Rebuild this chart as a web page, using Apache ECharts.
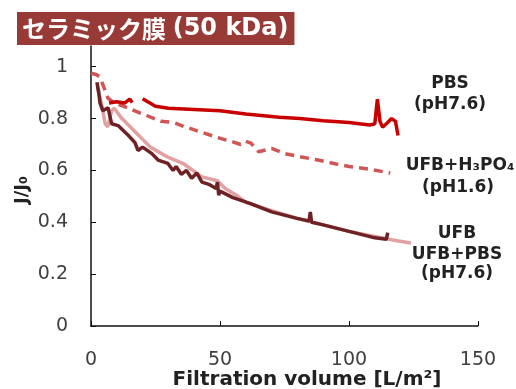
<!DOCTYPE html>
<html>
<head>
<meta charset="utf-8">
<script src="https://cdn.jsdelivr.net/npm/echarts@6/dist/echarts.min.js"></script>
<style>
  html, body { margin: 0; padding: 0; background: #fff; }
  #chart { width: 516px; height: 389px; }
</style>
</head>
<body>
<div id="chart"></div>
<script>
// J/J0 vs filtration volume, ceramic membrane (50 kDa)
var xTicks = [0, 50, 100, 150];
var yTicks = [0, 0.2, 0.4, 0.6, 0.8, 1];

// PBS (pH7.6) - solid red, gap around 17
var pbs = [[7,0.86],[10,0.865],[13,0.86],[15,0.875],[16,0.862],[17,'-'],
  [20,0.877],[22,0.865],[25,0.848],[30,0.84],[40,0.835],[50,0.83],[60,0.818],[73,0.805],
  [81,0.80],[90,0.792],[100,0.785],[108,0.775],[110,0.78],[111,0.875],[112,0.79],
  [113,0.767],[114.5,0.78],[116.5,0.80],[118,0.79],[119,0.735]];

// UFB+H3PO4 (pH1.6) - dashed
var ufbAcid = [[0,0.975],[2,0.97],[3.5,0.96],[5,0.92],[6.5,0.88],[9,0.86],[12,0.85],
  [17,0.83],[22,0.81],[27,0.79],[32,0.785],[36,0.77],[42,0.75],[49,0.727],[55,0.71],
  [58,0.70],[60,0.712],[62,0.705],[65,0.672],[68,0.68],[70,0.685],[75,0.665],[80,0.655],
  [88,0.64],[95,0.625],[100,0.615],[108,0.605],[116,0.59]];

// UFB+PBS (pH7.6) - light pink
var ufbPbs = [[2.5,0.92],[4,0.86],[5.5,0.78],[6.5,0.768],[8,0.83],[9,0.84],[12,0.80],
  [17,0.75],[23,0.69],[30,0.65],[36,0.625],[43,0.575],[49,0.56],[52,0.53],[57,0.50],
  [60,0.477],[70,0.445],[80,0.415],[90,0.39],[100,0.365],[110,0.345],[118,0.33],[124,0.32]];

// UFB - dark brown
var ufb = [[2.3,0.94],[3,0.9],[3.5,0.86],[4.6,0.83],[6.6,0.842],[8,0.78],[10.5,0.773],
  [14,0.74],[17,0.708],[18.2,0.677],[20,0.69],[23.6,0.665],[26,0.64],[29.8,0.627],
  [31.8,0.6],[33,0.615],[35,0.585],[37,0.60],[39,0.57],[41,0.59],[43,0.555],[46,0.545],
  [48.5,0.53],[49,0.555],[49.5,0.505],[50,0.52],[55,0.495],[61.6,0.473],[70,0.44],
  [79.8,0.415],[84.5,0.405],[85,0.44],[85.5,0.40],[90,0.39],[100,0.365],[110,0.34],
  [114.5,0.335],[115,0.36]];

var chart = echarts.init(document.getElementById('chart'));
function lbl(x, y, s) {
  return { type: 'text', x: x, y: y, style: { text: s, fill: '#222', fontWeight: 'bold', fontSize: 17,
    fontFamily: 'DejaVu Sans', align: 'center', verticalAlign: 'middle' } };
}

chart.setOption({
  animation: false,
  title: {
    text: '{a|セラミック膜} {b|(50 kDa)}',
    left: 17, top: 12,
    backgroundColor: '#983A36',
    padding: [3, 6, 2, 5],
    textStyle: {
      color: '#fff', fontSize: 24, fontWeight: 'bold', lineHeight: 28,
      rich: {
        a: { color: '#fff', fontSize: 24, fontWeight: 'bold', fontFamily: 'Noto Sans CJK JP', lineHeight: 28 },
        b: { color: '#fff', fontSize: 24, fontWeight: 'bold', fontFamily: 'DejaVu Sans', lineHeight: 28 }
      }
    }
  },
  grid: { left: 91, right: 38, top: 46, bottom: 63 },
  xAxis: {
    type: 'value', min: 0, max: 150, interval: 50,
    axisLine: { lineStyle: { color: '#111', width: 1.5 } },
    axisTick: { inside: true, length: 5, lineStyle: { color: '#111' } },
    axisLabel: { color: '#404040', fontSize: 19, margin: 25, fontFamily: 'DejaVu Sans' },
    splitLine: { show: false }
  },
  yAxis: {
    type: 'value', min: 0, max: 1.08,
    axisLine: { show: true, lineStyle: { color: '#111', width: 1.5 } },
    axisTick: { show: true, inside: true, length: 5, customValues: yTicks, lineStyle: { color: '#111' } },
    axisLabel: { color: '#404040', fontSize: 19, margin: 23, fontFamily: 'DejaVu Sans', customValues: yTicks },
    splitLine: { show: false }
  },
  graphic: [
    { type: 'text', x: 307, y: 380,
      style: { text: 'Filtration volume [L/m²]', fill: '#222', fontSize: 20, fontWeight: 'bold',
        fontFamily: 'DejaVu Sans', align: 'center', verticalAlign: 'middle' } },
    { type: 'text', x: 22, y: 190, rotation: Math.PI / 2,
      style: { text: 'J/J₀', fill: '#222', fontSize: 18, fontWeight: 'bold', fontFamily: 'DejaVu Sans',
        align: 'center', verticalAlign: 'middle' } },
    lbl(450, 84, 'PBS'),
    lbl(450, 105, '(pH7.6)'),
    lbl(460, 166, 'UFB+H₃PO₄'),
    lbl(458, 188, '(pH1.6)'),
    lbl(457, 234, 'UFB'),
    lbl(457, 255, 'UFB+PBS'),
    lbl(457, 274, '(pH7.6)')
  ],
  series: [
    { type: 'line', data: ufbAcid, showSymbol: false, lineStyle: { color: '#D05555', width: 3.5, type: [9, 6] } },
    { type: 'line', data: ufbPbs, showSymbol: false, lineStyle: { color: '#E2A1A0', width: 3.5 } },
    { type: 'line', data: ufb, showSymbol: false, lineStyle: { color: '#6E2224', width: 3.5 } },
    { type: 'line', data: pbs, showSymbol: false, connectNulls: false, lineStyle: { color: '#C80000', width: 3.5 } }
  ]
});
</script>
</body>
</html>
